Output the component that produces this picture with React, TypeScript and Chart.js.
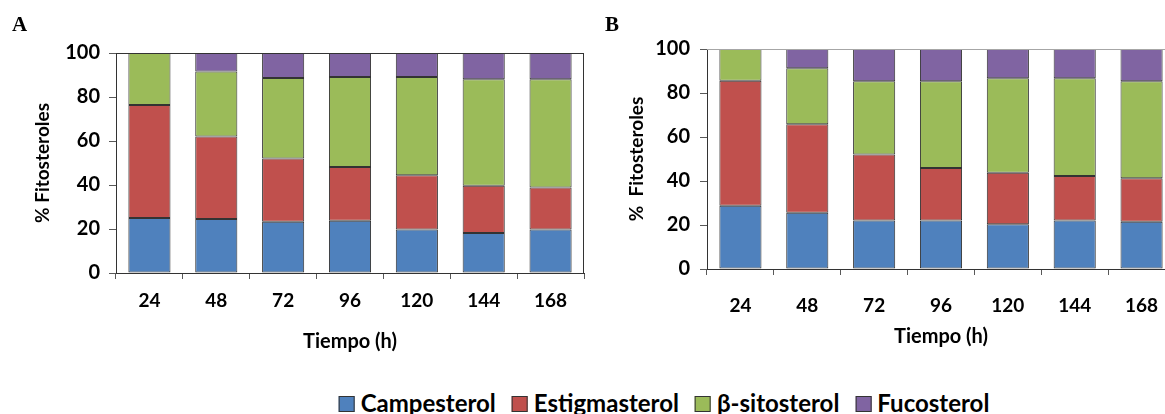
import React, { useEffect, useRef } from "react";
import { Chart, registerables } from "chart.js";

Chart.register(...registerables);

// ---------- data ----------
const categories = ["24", "48", "72", "96", "120", "144", "168"];
const seriesNames = ["Campesterol", "Estigmasterol", "β-sitosterol", "Fucosterol"];
const seriesColors = ["#4F81BD", "#C0504D", "#9BBB59", "#8064A2"];

const campesterolA = [25.0, 24.5, 23.3, 23.7, 19.8, 18.2, 19.8];
const estigmasterolA = [51.4, 37.5, 28.8, 24.5, 24.6, 21.5, 19.1];
const sitosterolA = [23.6, 29.6, 36.5, 40.9, 44.7, 48.4, 49.2];
const fucosterolA = [0, 8.4, 11.4, 10.9, 10.9, 11.9, 11.9];

const campesterolB = [28.8, 25.6, 22.1, 22.1, 20.3, 22.1, 21.5];
const estigmasterolB = [56.8, 40.2, 30.0, 23.8, 23.5, 20.2, 19.7];
const sitosterolB = [14.4, 25.4, 33.2, 39.4, 42.9, 44.4, 44.1];
const fucosterolB = [0, 8.8, 14.7, 14.7, 13.3, 13.3, 14.7];

const yMin = 0;
const yMax = 100;
const yStep = 20;

const xTitle = "Tiempo (h)";
const yTitleA = "% Fitosteroles";
const yTitleB = "%  Fitosteroles";

// ---------- styles ----------
const FONT = "Lato, 'Open Sans', sans-serif";
const DARK = "#333333";

type PanelLayout = {
  width: number;
  height: number;
  top: number;
  right: number;
  yWidth: number;
  xHeight: number;
  yTitlePad: number;
  yTickPad: number;
  xTickPad: number;
  xTitlePad: number;
  frameTop: string;
  frameRight: string;
};

const frameOf = (layout: PanelLayout) => ({
  id: "frame",
  afterDatasetsDraw(chart: any) {
    const { ctx, chartArea } = chart;
    ctx.save();
    ctx.lineWidth = 1;
    ctx.strokeStyle = layout.frameTop;
    ctx.beginPath();
    ctx.moveTo(chartArea.left, chartArea.top + 0.5);
    ctx.lineTo(chartArea.right, chartArea.top + 0.5);
    ctx.stroke();
    ctx.strokeStyle = layout.frameRight;
    ctx.beginPath();
    ctx.moveTo(chartArea.right - 0.5, chartArea.top);
    ctx.lineTo(chartArea.right - 0.5, chartArea.bottom);
    ctx.stroke();
    ctx.restore();
  },
});

function makeConfig(series: number[][], yTitle: string, layout: PanelLayout): any {
  return {
    type: "bar",
    data: {
      labels: categories,
      datasets: series.map((values, i) => ({
        label: seriesNames[i],
        data: values,
        backgroundColor: seriesColors[i],
        borderColor: DARK,
        borderWidth: 1,
        borderSkipped: false,
        barPercentage: 0.63,
        categoryPercentage: 1,
      })),
    },
    plugins: [frameOf(layout)],
    options: {
      responsive: false,
      animation: false,
      devicePixelRatio: 1,
      layout: {
        padding: { top: layout.top, left: 0, right: layout.right, bottom: 0 },
      },
      plugins: {
        legend: { display: false },
        tooltip: { enabled: false },
        title: { display: false },
      },
      scales: {
        x: {
          stacked: true,
          afterFit: (scale: any) => {
            scale.height = layout.xHeight;
          },
          grid: {
            display: true,
            drawOnChartArea: false,
            drawTicks: true,
            tickLength: 6,
            color: "#595959",
            offset: true,
          },
          border: { display: true, color: DARK, width: 1 },
          ticks: {
            color: "#000",
            padding: layout.xTickPad,
            maxRotation: 0,
            font: { family: FONT, size: 19, weight: "bold" },
          },
          title: {
            display: true,
            text: xTitle,
            color: "#000",
            padding: { top: 0, bottom: layout.xTitlePad },
            font: { family: FONT, size: 20, weight: "bold" },
          },
        },
        y: {
          stacked: true,
          min: yMin,
          max: yMax,
          afterFit: (scale: any) => {
            scale.width = layout.yWidth;
          },
          grid: {
            display: true,
            drawOnChartArea: false,
            drawTicks: true,
            tickLength: 7,
            color: "#595959",
          },
          border: { display: true, color: DARK, width: 1 },
          ticks: {
            stepSize: yStep,
            color: "#000",
            padding: layout.yTickPad,
            font: { family: FONT, size: 20, weight: "bold" },
          },
          title: {
            display: true,
            text: yTitle,
            color: "#000",
            padding: { top: layout.yTitlePad, bottom: 0 },
            font: { family: FONT, size: 19, weight: "bold" },
          },
        },
      },
    },
  };
}

const layoutA: PanelLayout = {
  width: 592,
  height: 362,
  top: 53,
  right: 8,
  yWidth: 116,
  xHeight: 89,
  yTitlePad: 31,
  yTickPad: 9,
  xTickPad: 10,
  xTitlePad: 8,
  frameTop: DARK,
  frameRight: DARK,
};

const layoutB: PanelLayout = {
  width: 600,
  height: 362,
  top: 49,
  right: 15,
  yWidth: 117,
  xHeight: 93,
  yTitlePad: 35,
  yTickPad: 10,
  xTickPad: 19,
  xTitlePad: 13,
  frameTop: "#A6A6A6",
  frameRight: "#A6A6A6",
};

function Panel({ series, yTitle, layout }: { series: number[][]; yTitle: string; layout: PanelLayout }) {
  const ref = useRef<HTMLCanvasElement | null>(null);
  useEffect(() => {
    if (!ref.current) return;
    const chart = new Chart(ref.current, makeConfig(series, yTitle, layout));
    return () => chart.destroy();
  }, []);
  return (
    <canvas
      ref={ref}
      width={layout.width}
      height={layout.height}
      style={{ display: "block", width: layout.width, height: layout.height }}
    />
  );
}

export default function App() {
  const seriesA = [campesterolA, estigmasterolA, sitosterolA, fucosterolA];
  const seriesB = [campesterolB, estigmasterolB, sitosterolB, fucosterolB];
  const panelLabel: React.CSSProperties = {
    position: "absolute",
    fontFamily: "'Liberation Serif', 'Times New Roman', serif",
    fontWeight: "bold",
    fontSize: 21,
    lineHeight: "21px",
    color: "#000",
  };
  return (
    <div
      style={{
        position: "absolute",
        left: 0,
        top: 0,
        width: 1165,
        height: 414,
        overflow: "hidden",
        background: "#fff",
      }}
    >
      <div style={{ position: "absolute", left: 0, top: 0, width: 592, height: 362 }}>
        <Panel series={seriesA} yTitle={yTitleA} layout={layoutA} />
      </div>
      <div style={{ position: "absolute", left: 590, top: 0, width: 575, height: 362, overflow: "hidden" }}>
        <Panel series={seriesB} yTitle={yTitleB} layout={layoutB} />
      </div>
      <div style={{ ...panelLabel, left: 12, top: 14 }}>A</div>
      <div style={{ ...panelLabel, left: 605, top: 14 }}>B</div>
      <div
        style={{
          position: "absolute",
          left: 664,
          top: 391,
          transform: "translateX(-50%)",
          display: "flex",
          alignItems: "center",
          whiteSpace: "nowrap",
          fontFamily: FONT,
          fontWeight: "bold",
          fontSize: 24,
          lineHeight: "24px",
          color: "#000",
        }}
      >
        {seriesNames.map((name, i) => (
          <div key={name} style={{ display: "flex", alignItems: "center", marginLeft: i === 0 ? 0 : 16 }}>
            <span
              style={{
                display: "inline-block",
                width: 14,
                height: 14,
                background: seriesColors[i],
                border: `1px solid ${DARK}`,
                marginRight: 6,
                marginTop: 2,
              }}
            />
            <span>{name}</span>
          </div>
        ))}
      </div>
    </div>
  );
}
